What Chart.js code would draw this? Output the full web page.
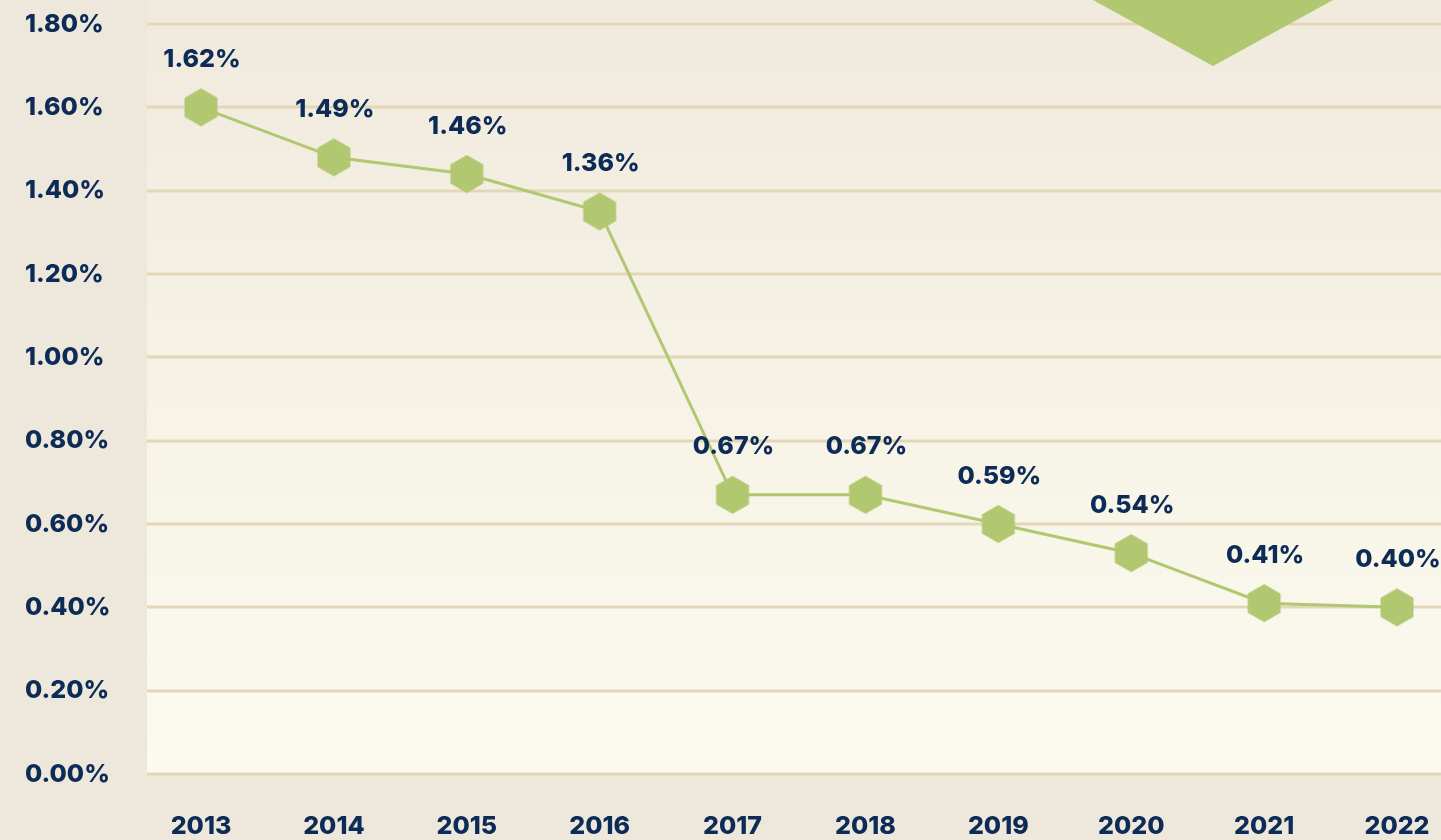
<!DOCTYPE html>
<html><head><meta charset="utf-8">
<script src="https://cdn.jsdelivr.net/npm/chart.js@4.4.1/dist/chart.umd.min.js"></script>
<style>html,body{margin:0;padding:0;background:#eee8dc;overflow:hidden}#wrap{width:1441px;height:840px}</style>
</head><body><div id="wrap"><canvas id="c" width="1441" height="840"></canvas></div>
<script>
const years = ['2013','2014','2015','2016','2017','2018','2019','2020','2021','2022'];
const rates = [1.60, 1.48, 1.44, 1.35, 0.67, 0.67, 0.60, 0.53, 0.41, 0.40];
const rateLabels = ['1.62%','1.49%','1.46%','1.36%','0.67%','0.67%','0.59%','0.54%','0.41%','0.40%'];
const yMin = 0, yMax = 1.8, yStep = 0.2;

const NAVY = '#0c2b56';
const GREEN = '#b1c870';
const GRID = '#e3d7b7';
const FONT = 'Inter';

function hexCanvas(r) {
  const s = Math.ceil(r * 2 + 2);
  const c = document.createElement('canvas');
  c.width = s; c.height = s;
  const g = c.getContext('2d');
  g.fillStyle = GREEN;
  g.beginPath();
  for (let i = 0; i < 6; i++) {
    const a = Math.PI / 2 + i * Math.PI / 3;
    const x = s / 2 + r * Math.cos(a), y = s / 2 + r * Math.sin(a);
    if (i === 0) g.moveTo(x, y); else g.lineTo(x, y);
  }
  g.closePath(); g.fill();
  return c;
}
const hex = hexCanvas(19);

const decor = {
  id: 'decor',
  beforeDraw(chart) {
    const ctx = chart.ctx, W = chart.width;
    const y = chart.scales.y;
    const bottom = y.getPixelForValue(yMin);
    ctx.save();
    ctx.fillStyle = '#eee8dc';
    ctx.fillRect(0, 0, W, chart.height);
    const gr = ctx.createLinearGradient(0, 0, 0, bottom);
    gr.addColorStop(0, '#f0eadd');
    gr.addColorStop(1, '#fcfaef');
    ctx.fillStyle = gr;
    ctx.fillRect(147, 0, W - 147, bottom);
    ctx.strokeStyle = GRID;
    ctx.lineWidth = 3;
    y.ticks.forEach(t => {
      const py = Math.round(y.getPixelForValue(t.value));
      ctx.beginPath(); ctx.moveTo(147, py); ctx.lineTo(W, py); ctx.stroke();
    });
    // decorative large hexagon corner at top right
    ctx.fillStyle = GREEN;
    ctx.beginPath();
    ctx.moveTo(1213, 66);
    ctx.lineTo(1213 + 150, 66 - 82.5);
    ctx.lineTo(1213 - 150, 66 - 82.5);
    ctx.closePath(); ctx.fill();
    ctx.restore();
  },
  afterDatasetsDraw(chart) {
    const ctx = chart.ctx;
    const meta = chart.getDatasetMeta(0);
    ctx.save();
    ctx.font = `800 25px ${FONT}`;
    ctx.fillStyle = NAVY;
    ctx.textAlign = 'center';
    ctx.textBaseline = 'middle';
    meta.data.forEach((p, i) => {
      ctx.fillText(rateLabels[i], p.x + 1, p.y - 48);
    });
    ctx.restore();
  }
};

new Chart(document.getElementById('c'), {
  type: 'line',
  data: {
    labels: years,
    datasets: [{
      data: rates,
      borderColor: GREEN,
      borderWidth: 3,
      pointStyle: hex,
      pointRadius: 19,
      pointHoverRadius: 19,
      tension: 0,
      clip: false
    }]
  },
  options: {
    responsive: false,
    animation: false,
    devicePixelRatio: 1,
    events: [],
    layout: { padding: { top: 24, right: 44, bottom: 0, left: 25 } },
    plugins: { legend: { display: false }, tooltip: { enabled: false } },
    scales: {
      x: {
        offset: false,
        grid: { display: false, drawTicks: false },
        border: { display: false },
        ticks: { color: NAVY, font: { family: FONT, size: 25, weight: '800' }, padding: 37, maxRotation: 0, autoSkip: false },
        afterFit(s) { s.height = 66; s.paddingLeft = 0; s.paddingRight = 0; }
      },
      y: {
        min: yMin, max: yMax,
        grid: { display: false, drawTicks: false },
        border: { display: false },
        ticks: {
          stepSize: yStep,
          crossAlign: 'far',
          color: NAVY,
          font: { family: FONT, size: 25, weight: '800' },
          callback: v => v.toFixed(2) + '%'
        },
        afterFit(s) { s.width = 176; s.paddingTop = 0; s.paddingBottom = 0; }
      }
    }
  },
  plugins: [decor]
});
</script></body></html>
